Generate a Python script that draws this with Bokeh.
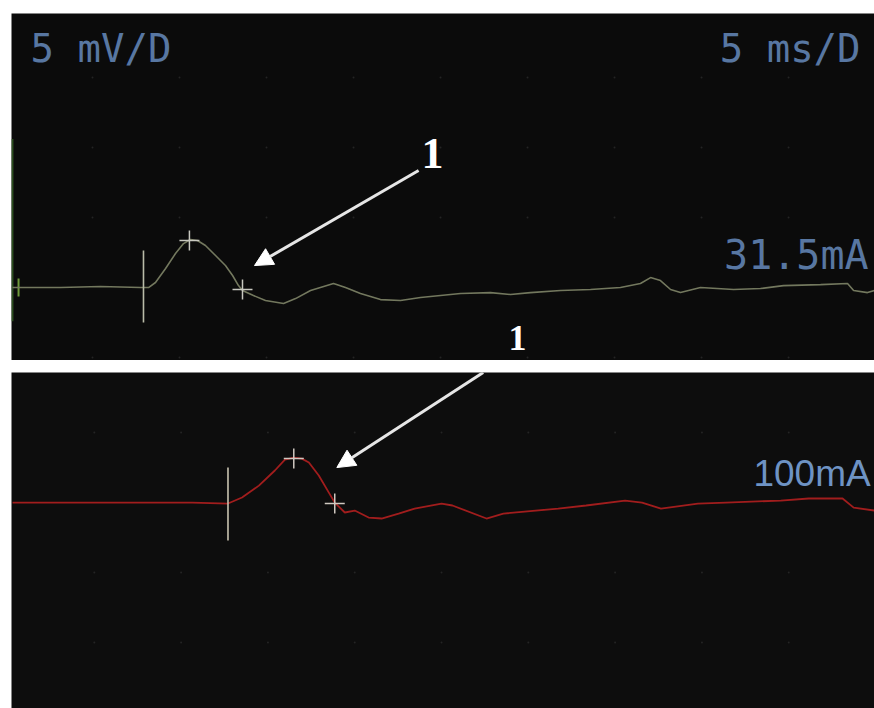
from bokeh.plotting import figure
from bokeh.layouts import column
from bokeh.models import Range1d, Arrow, NormalHead
from bokeh.core.properties import value
from bokeh.embed import file_html
from bokeh.resources import INLINE

# ---- data (time in ms, amplitude in mV; 5 ms/D, 5 mV/D) ----
top_t = [0.40, 3.16, 5.46, 7.76, 8.22, 8.62, 9.20, 9.77, 10.23, 10.63, 11.03, 11.49, 12.07,
         12.64, 13.05, 13.39, 13.62, 14.25, 14.94, 15.98, 16.67, 17.53, 18.85, 19.54, 20.40,
         21.55, 22.70, 23.85, 25.00, 26.15, 27.87, 29.02, 30.17, 31.90, 33.62, 35.34, 36.49,
         37.07, 37.64, 38.22, 38.79, 39.94, 41.84, 43.39, 44.71, 46.84, 48.39, 48.74, 49.54, 49.94]
top_v = [0.00, 0.00, 0.07, 0.00, 0.00, 0.36, 1.36, 2.43, 3.14, 3.43, 3.36, 3.00, 2.29,
         1.57, 0.86, 0.14, -0.21, -0.57, -0.93, -1.14, -0.79, -0.21, 0.29, 0.00, -0.43,
         -0.86, -0.93, -0.71, -0.57, -0.43, -0.36, -0.50, -0.36, -0.21, -0.14, 0.00, 0.29,
         0.71, 0.50, -0.14, -0.36, 0.00, -0.14, -0.07, 0.14, 0.21, 0.29, -0.21, -0.36, -0.21]

bot_t = [0.29, 5.46, 10.63, 12.70, 13.51, 14.48, 15.40, 15.98, 16.49, 16.95, 17.36, 17.93,
         18.51, 18.85, 19.43, 20.00, 20.80, 21.55, 22.53, 23.45, 25.00, 25.63, 27.59, 28.56,
         31.72, 33.33, 35.57, 36.55, 37.64, 39.77, 41.38, 44.54, 46.15, 48.10, 48.74, 49.94]
bot_v = [0.00, 0.00, 0.00, -0.07, 0.36, 1.21, 2.29, 3.07, 3.21, 3.14, 2.86, 1.93,
         0.71, 0.00, -0.71, -0.57, -1.07, -1.14, -0.79, -0.43, -0.07, -0.21, -1.14, -0.79,
         -0.43, -0.21, 0.14, 0.00, -0.43, -0.07, 0.00, 0.14, 0.29, 0.29, -0.36, -0.57]

top_cursor_t = [10.57, 13.62]
top_cursor_v = [3.36, -0.14]
bot_cursor_t = [16.49, 18.85]
bot_cursor_v = [3.14, -0.07]

top_stim_t = 7.93
top_stim_v = [2.64, -2.50]
bot_stim_t = 12.70
bot_stim_v = [2.50, -2.71]

grid_t = [5, 10, 15, 20, 25, 30, 35, 40, 45]
top_grid_v = [15, 10, 5, -5]
bot_grid_v = [5, -5, -10]

gain_label = "5 mV/D"
sweep_label = "5 ms/D"
top_current = "31.5mA"
bot_current = "100mA"

W = 874
BG_TOP = "#0b0b0b"
BG_BOT = "#0d0d0d"
TXT = "#5877a2"
MONO = value("DejaVu Sans Mono")


def base_fig(h, y0, y1, x0, border_top, border_left, bg):
    p = figure(width=W, height=h, output_backend="svg", toolbar_location=None,
               x_range=Range1d(x0, 49.94), y_range=Range1d(y0, y1),
               x_axis_location=None, y_axis_location=None,
               min_border_top=border_top, min_border_left=border_left,
               min_border_right=0, min_border_bottom=0,
               background_fill_color=bg, border_fill_color="white",
               outline_line_color=None)
    p.grid.visible = False
    return p


# ---------------- top panel ----------------
pt = base_fig(360, -5.21, 19.57, 0.345, 13, 11, BG_TOP)
gx = [t for t in grid_t for _ in top_grid_v]
gy = [v for _ in grid_t for v in top_grid_v]
pt.scatter(gx, gy, size=2, color="#242424", line_color=None)

pt.segment(x0=[0.40], y0=[10.6], x1=[0.40], y1=[-2.4], line_color="#2c4f20", line_width=2)
pt.segment(x0=[0.75], y0=[0.64], x1=[0.75], y1=[-0.64], line_color="#6f9a3a", line_width=2)

pt.line(top_t, top_v, line_color="#73785e", line_width=1.6)
pt.segment(x0=[top_stim_t], y0=[top_stim_v[0]], x1=[top_stim_t], y1=[top_stim_v[1]],
           line_color="#b9bba8", line_width=1.6)
pt.scatter(top_cursor_t, top_cursor_v, marker="cross", size=20, line_color="#c8c8c0",
           line_width=1.5)

pt.text(x=[1.44], y=[17.07], text=[gain_label], text_font=MONO, text_font_size="39px",
        text_color=TXT, text_baseline="middle", text_align="left")
pt.text(x=[49.14], y=[17.07], text=[sweep_label], text_font=MONO, text_font_size="39px",
        text_color=TXT, text_baseline="middle", text_align="right")
pt.text(x=[49.6], y=[2.29], text=[top_current], text_font=MONO, text_font_size="40px",
        text_color=TXT, text_baseline="middle", text_align="right")

pt.text(x=[24.54], y=[9.6], text=["1"], text_font=value("Liberation Serif"),
        text_font_style="bold", text_font_size="44px", text_color="white",
        text_align="center", text_baseline="middle")
pt.text(x=[29.43], y=[-3.57], text=["1"], text_font=value("Liberation Serif"),
        text_font_style="bold", text_font_size="36px", text_color="white",
        text_align="center", text_baseline="middle")

pt.add_layout(Arrow(end=NormalHead(size=18, fill_color="white", line_color="white"),
                    x_start=23.74, y_start=8.36, x_end=14.31, y_end=1.57,
                    line_color="#e6e6e6", line_width=3))

# ---------------- bottom panel ----------------
pb = base_fig(348, -14.71, 9.29, 0.23, 12, 9, BG_BOT)
gx = [t for t in grid_t for _ in bot_grid_v]
gy = [v for _ in grid_t for v in bot_grid_v]
pb.scatter(gx, gy, size=2, color="#242424", line_color=None)

pb.line(bot_t, bot_v, line_color="#a11d1d", line_width=1.8)
pb.segment(x0=[bot_stim_t], y0=[bot_stim_v[0]], x1=[bot_stim_t], y1=[bot_stim_v[1]],
           line_color="#c9c3b0", line_width=1.6)
pb.scatter(bot_cursor_t, bot_cursor_v, marker="cross", size=20, line_color="#cfc8c0",
           line_width=1.5)

pb.text(x=[49.72], y=[2.07], text=[bot_current],
        text_font=value("Liberation Sans"),
        text_font_size="37px", text_color="#6e93c4", text_baseline="middle",
        text_align="right")

pb.add_layout(Arrow(end=NormalHead(size=18, fill_color="white", line_color="white"),
                    x_start=27.40, y_start=9.29, x_end=18.97, y_end=2.5,
                    line_color="#e6e6e6", line_width=3))

layout = column(pt, pb, spacing=0)
open("out.html", "w").write(file_html(layout, INLINE))
